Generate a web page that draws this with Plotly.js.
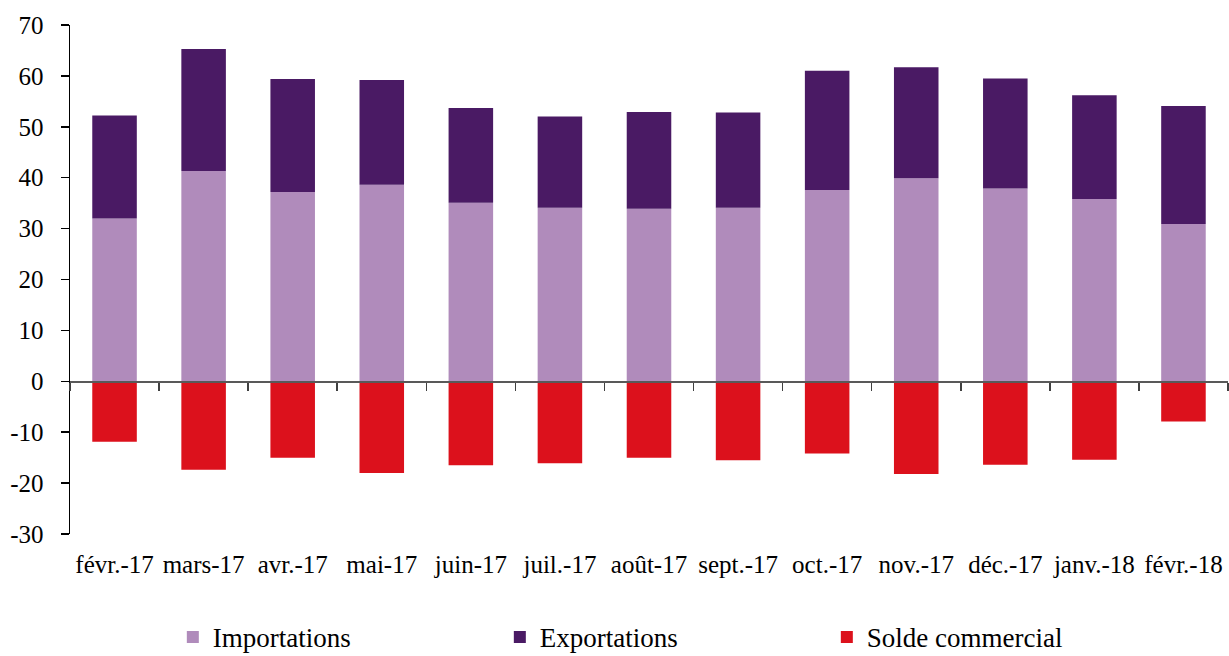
<!DOCTYPE html>
<html>
<head>
<meta charset="utf-8">
<script src="https://cdn.plot.ly/plotly-3.0.1.min.js"></script>
<style>
  html, body { margin: 0; padding: 0; background: #fff; }
  #chart { width: 1229px; height: 656px; }
</style>
</head>
<body>
<div id="chart"></div>
<script>
// Monthly trade figures (billions), February 2017 – February 2018
const months = ["févr.-17", "mars-17", "avr.-17", "mai-17", "juin-17", "juil.-17", "août-17",
                "sept.-17", "oct.-17", "nov.-17", "déc.-17", "janv.-18", "févr.-18"];
const importations = [32.0, 41.3, 37.2, 38.6, 35.1, 34.1, 33.9, 34.1, 37.6, 39.9, 37.9, 35.8, 30.9];
const exportations = [20.2, 24.0, 22.2, 20.6, 18.6, 17.9, 19.0, 18.7, 23.4, 21.8, 21.6, 20.4, 23.2];
const solde = [-11.9, -17.4, -15.0, -18.0, -16.5, -16.1, -15.0, -15.5, -14.2, -18.2, -16.4, -15.4, -7.9];

// value-axis ticks, written with a plain hyphen for negatives
const yTickVals = [-30, -20, -10, 0, 10, 20, 30, 40, 50, 60, 70];
const yTickText = ["-30", "-20", "-10", "0", "10", "20", "30", "40", "50", "60", "70"];

const serif = "Liberation Serif, DejaVu Serif, serif";

const traces = [
  { type: "bar", name: "Importations", x: months, y: importations,
    marker: { color: "#b08bbb" }, xaxis: "x", yaxis: "y" },
  { type: "bar", name: "Exportations", x: months, y: exportations,
    marker: { color: "#4a1a64" }, xaxis: "x", yaxis: "y" },
  // balance drawn on the overlay axis that sits on the zero line
  { type: "bar", name: "Solde commercial", x: months, y: solde,
    marker: { color: "#dc111c" }, xaxis: "x2", yaxis: "y" }
];

const layout = {
  width: 1229, height: 656,
  margin: { l: 70, r: 1, t: 25, b: 122, autoexpand: false },
  paper_bgcolor: "#fff", plot_bgcolor: "#fff",
  barmode: "relative", bargap: 0.5,
  font: { family: serif, size: 25, color: "#000" },
  showlegend: true,
  legend: {
    orientation: "h", x: 0.0888, xanchor: "left", y: -0.203, yanchor: "middle",
    font: { family: serif, size: 27, color: "#000" },
    entrywidth: 282, entrywidthmode: "pixels", traceorder: "normal",
    tracegroupgap: 0, borderwidth: 0
  },
  xaxis: {
    type: "category", showline: false, ticks: "", showgrid: false, zeroline: false,
    tickfont: { family: serif, size: 25, color: "#000" }, ticklabelstandoff: 13,
    automargin: false
  },
  xaxis2: {
    type: "category", overlaying: "x", matches: "x", anchor: "free", position: 0.3,
    showline: true, linecolor: "#595959", linewidth: 1.5,
    ticks: "outside", tickson: "boundaries", ticklen: 8, tickcolor: "#404040", tickwidth: 1.5,
    showticklabels: false, showgrid: false, zeroline: false
  },
  yaxis: {
    range: [-30, 70], tickmode: "array", tickvals: yTickVals, ticktext: yTickText,
    showline: true, linecolor: "#000", linewidth: 1.5,
    ticks: "outside", ticklen: 8, tickcolor: "#000", tickwidth: 1.5,
    showgrid: false, zeroline: false, ticklabelstandoff: 12, automargin: false,
    tickfont: { family: serif, size: 25, color: "#000" }
  }
};

Plotly.newPlot("chart", traces, layout, { displayModeBar: false, staticPlot: true });
</script>
</body>
</html>
